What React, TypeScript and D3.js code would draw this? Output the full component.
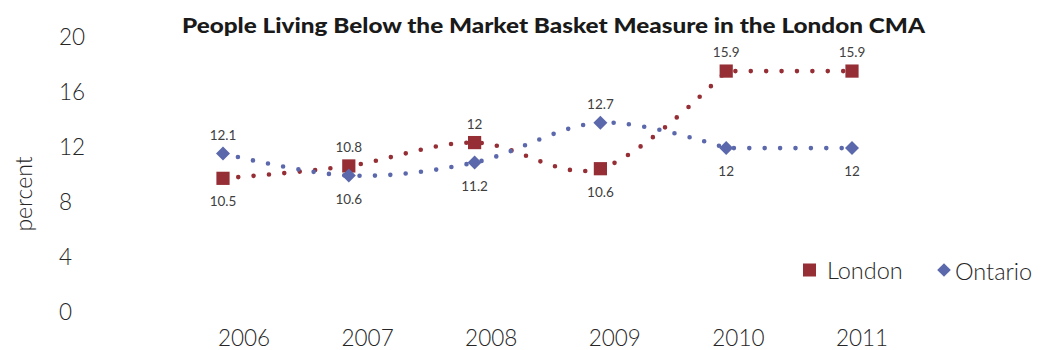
import React from "react";
import * as d3 from "d3";

const years = ["2006", "2007", "2008", "2009", "2010", "2011"];
const londonValues = [9.7, 10.6, 12.3, 10.4, 17.5, 17.5];
const ontarioValues = [11.5, 9.9, 10.85, 13.75, 11.9, 11.9];
const londonLabels = ["10.5", "10.8", "12", "10.6", "15.9", "15.9"];
const ontarioLabels = ["12.1", "10.6", "11.2", "12.7", "12", "12"];
const yTicks = [0, 4, 8, 12, 16, 20];
const title = "People Living Below the Market Basket Measure in the London CMA";

const W = 1047;
const H = 350;
const RED = "#952f35";
const BLUE = "#5b68ac";
const FONT = "Lato, 'Open Sans', sans-serif";

export default function App() {
  const x = d3.scalePoint<string>().domain(years).range([223, 852]);
  const xAxis = d3.scalePoint<string>().domain(years).range([244, 862]);
  const y = d3.scaleLinear().domain([0, 20]).range([311.7, 36.7]);

  const smooth = d3
    .line<[string, number]>()
    .x((d) => x(d[0]) as number)
    .y((d) => y(d[1]))
    .curve(d3.curveCardinal.tension(0));

  // smooth through the changing part, straight where the series stays level
  const pathFor = (values: number[]) => {
    const pts: [string, number][] = years.map((yr, i) => [yr, values[i]]);
    let end = pts.length - 1;
    while (end > 0 && pts[end][1] === pts[end - 1][1]) end--;
    let d = smooth(pts.slice(0, end + 1)) || "";
    for (let i = end + 1; i < pts.length; i++) d += `L${x(pts[i][0])},${y(pts[i][1])}`;
    return d;
  };

  const series = [
    { name: "London", values: londonValues, labels: londonLabels, other: ontarioValues, color: RED, shape: "square" },
    { name: "Ontario", values: ontarioValues, labels: ontarioLabels, other: londonValues, color: BLUE, shape: "diamond" },
  ];

  const marker = (shape: string, cx: number, cy: number, color: string, key: string, s = 6.6) =>
    shape === "square" ? (
      <rect key={key} x={cx - s} y={cy - s} width={2 * s} height={2 * s} fill={color} />
    ) : (
      <path key={key} d={`M${cx},${cy - s}L${cx + s},${cy}L${cx},${cy + s}L${cx - s},${cy}Z`} fill={color} />
    );

  return (
    <svg width={W} height={H} style={{ position: "absolute", left: 0, top: 0, background: "#fff" }}>
      <text x={182} y={24} textLength={743} lengthAdjust="spacingAndGlyphs" dominantBaseline="central" fontFamily={FONT} fontWeight={900} fontSize={21} fill="#1a1a1a">
        {title}
      </text>
      {yTicks.map((t) => (
        <text key={t} x={59} y={y(t)} dominantBaseline="central" fontFamily={FONT} fontWeight={300} fontSize={22.5} fill="#262626">
          {t}
        </text>
      ))}
      <text transform={`translate(23,194) rotate(-90)`} textAnchor="middle" dominantBaseline="central" fontFamily={FONT} fontWeight={300} fontSize={23} fill="#262626">
        percent
      </text>
      {years.map((yr) => (
        <text key={yr} x={xAxis(yr)} y={337} textAnchor="middle" dominantBaseline="central" fontFamily={FONT} fontWeight={300} fontSize={22.5} fill="#262626">
          {yr}
        </text>
      ))}
      {series.map((s) => (
        <path key={s.name + "-line"} d={pathFor(s.values)} fill="none" stroke={s.color} strokeWidth={4.6} strokeLinecap="round" strokeDasharray="0 15.4" />
      ))}
      {series.map((s) => (
        <g key={s.name + "-marks"}>
          {s.values.map((v, i) => marker(s.shape, x(years[i]) as number, y(v), s.color, s.name + i, s.shape === "square" ? 6.6 : 7))}
          {s.values.map((v, i) => {
            const above = v > s.other[i];
            return (
              <text key={s.name + "l" + i} x={x(years[i])} y={y(v) + (above ? -19 : 23)} textAnchor="middle" dominantBaseline="central" fontFamily={FONT} fontSize={13.5} fill="#404040">
                {s.labels[i]}
              </text>
            );
          })}
        </g>
      ))}
      {marker("square", 809.5, 270, RED, "leg1", 6.5)}
      <text x={827} y={270} dominantBaseline="central" fontFamily={FONT} fontWeight={300} fontSize={23.5} fill="#262626">London</text>
      {marker("diamond", 944, 270, BLUE, "leg2", 6.8)}
      <text x={955} y={271} dominantBaseline="central" fontFamily={FONT} fontWeight={300} fontSize={23.5} fill="#262626">Ontario</text>
    </svg>
  );
}
